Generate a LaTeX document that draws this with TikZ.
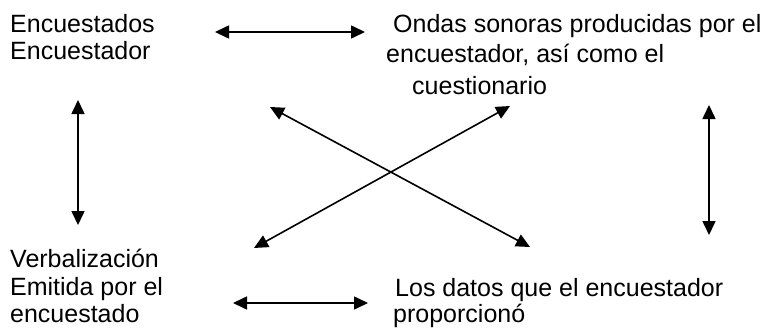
\documentclass[tikz,border=0pt]{standalone}
\usepackage{fontspec}
\setmainfont{Liberation Sans}
\usetikzlibrary{arrows.meta, positioning}
\tikzset{
  concept/.style = {inner sep=0, anchor=base west, font=\fontsize{25}{30}\selectfont},
  link/.style = {line width=1.6pt, {Triangle[length=14pt, width=13pt]}-{Triangle[length=14pt, width=13pt]}},
}

\begin{document}
\begin{tikzpicture}[x=1pt, y=-1pt]
        \useasboundingbox (0,0) rectangle (777,327);
        % text lines, one node per line
        \foreach \n/\x/\y/\t in {
          enc1/10/32/Encuestados,
          enc2/10/59/Encuestador,
          ondas1/393/32/Ondas sonoras producidas por el,
          ondas2/386/62/{encuestador, así como el},
          ondas3/412/94/cuestionario,
          verb1/10/267/Verbalización,
          verb2/10/295/Emitida por el,
          verb3/10/322/encuestado,
          datos1/395/296/Los datos que el encuestador,
          datos2/393/322/proporcionó%
        }{
          \node (\n) [concept] at (\x,\y) {\t};
        }

        % arrow ends
        \coordinate (top-l) at (215,32);
        \coordinate (top-r) at (365,32);
        \coordinate (left-t) at (78,100);
        \coordinate (left-b) at (78,225);
        \coordinate (right-t) at (709,105);
        \coordinate (right-b) at (709,235);
        \coordinate (bot-l) at (233,303);
        \coordinate (bot-r) at (368,303);
        \coordinate (dia-tl) at (270,107);
        \coordinate (dia-br) at (530,247);
        \coordinate (dia-tr) at (510,106);
        \coordinate (dia-bl) at (254,248);

        \foreach \a/\b in {top-l/top-r, left-t/left-b, right-t/right-b,
                           bot-l/bot-r, dia-tl/dia-br, dia-tr/dia-bl}{
          \draw [link] (\a) -- (\b);
        }
      \end{tikzpicture}
\end{document}
